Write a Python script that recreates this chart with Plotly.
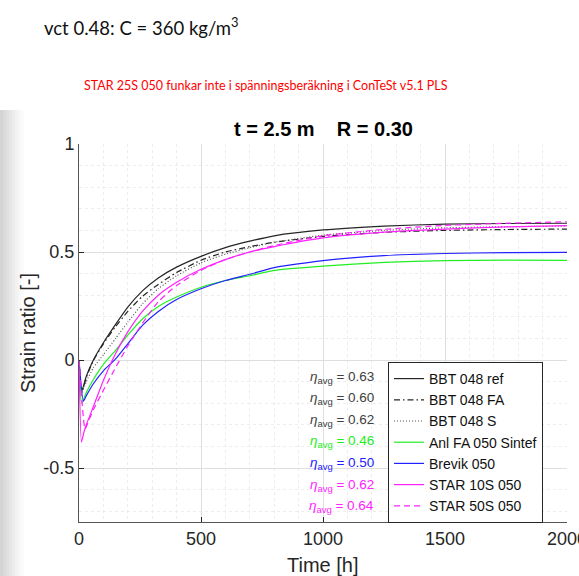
import plotly.graph_objects as go

# ---------------- data ----------------
t_std = [0, 11, 30, 59, 100, 150, 200, 260, 325, 400, 500, 600, 700, 800, 1000, 1250, 1500, 1750, 2000]
bbt_ref = [0, -0.145, -0.075, 0.0, 0.08, 0.165, 0.245, 0.32, 0.38, 0.43, 0.48, 0.52, 0.55, 0.575, 0.602, 0.62, 0.629, 0.632, 0.633]
bbt_fa = [0, -0.15, -0.08, -0.002, 0.075, 0.155, 0.225, 0.295, 0.35, 0.405, 0.462, 0.50, 0.525, 0.545, 0.572, 0.591, 0.600, 0.604, 0.606]
bbt_s = [0, -0.15, -0.10, -0.035, 0.025, 0.10, 0.175, 0.26, 0.33, 0.39, 0.45, 0.49, 0.52, 0.545, 0.578, 0.60, 0.612, 0.617, 0.62]
anl_fa = [0, -0.20, -0.15, -0.09, -0.02, 0.045, 0.115, 0.19, 0.248, 0.292, 0.337, 0.368, 0.39, 0.415, 0.435, 0.452, 0.460, 0.462, 0.461]

t_brevik = [0, 18, 30, 59, 100, 150, 200, 260, 325, 400, 500, 600, 700, 800, 1000, 1250, 1500, 1750, 2000]
brevik = [0, -0.19, -0.165, -0.11, -0.05, 0.005, 0.075, 0.16, 0.225, 0.28, 0.33, 0.368, 0.397, 0.428, 0.46, 0.483, 0.493, 0.497, 0.498]

t_star10 = [0, 10, 20, 30, 59, 100, 150, 200, 260, 325, 400, 500, 600, 700, 800, 1000, 1250, 1500, 1750, 2000]
star10 = [0, -0.38, -0.335, -0.30, -0.215, -0.095, 0.03, 0.13, 0.225, 0.30, 0.36, 0.42, 0.465, 0.50, 0.525, 0.565, 0.592, 0.606, 0.616, 0.622]

t_star50 = [0, 25, 40, 59, 100, 150, 200, 260, 325, 400, 500, 600, 700, 800, 1000, 1250, 1500, 1750, 2000]
star50 = [0, -0.32, -0.28, -0.23, -0.14, -0.035, 0.065, 0.17, 0.27, 0.345, 0.415, 0.465, 0.50, 0.53, 0.575, 0.605, 0.623, 0.633, 0.640]

names = ["BBT 048 ref", "BBT 048 FA", "BBT 048 S", "Anl FA 050 Sintef", "Brevik 050", "STAR 10S 050", "STAR 50S 050"]
eta_avg = ["0.63", "0.60", "0.62", "0.46", "0.50", "0.62", "0.64"]

x_ticks = [0, 500, 1000, 1500, 2000]
y_ticks = [-0.5, 0, 0.5, 1]

# ---------------- styles ----------------
series = [
    (t_std, bbt_ref, "#262626", "solid"),
    (t_std, bbt_fa, "#262626", "6px,3px,1.5px,3px"),
    (t_std, bbt_s, "#555555", "1px,2px"),
    (t_std, anl_fa, "#22ee22", "solid"),
    (t_brevik, brevik, "#2222ff", "solid"),
    (t_star10, star10, "#ff22ff", "solid"),
    (t_star50, star50, "#ff22ff", "6px,4px"),
]
eta_colors = ["#404040", "#404040", "#404040", "#22ee22", "#2222ff", "#ff22ff", "#ff22ff"]

W, H = 579, 576
L, R, T, B = 79, 12, 144, 54
PW, PH = W - L - R, H - T - B


def X(px):
    return (px - L) / PW


def Y(py):
    return (H - B - py) / PH


fig = go.Figure()
for (tx, ty, col, dash), nm in zip(series, names):
    fig.add_trace(go.Scatter(x=tx, y=ty, mode="lines", name=nm,
                             line=dict(color=col, width=1.2, dash=dash, shape="spline", smoothing=0.5)))

FONT = "Liberation Sans, Arial, sans-serif"
grid_major = "#dedede"
grid_minor = "#ededed"

fig.update_layout(
    width=W, height=H,
    margin=dict(l=L, r=R, t=T, b=B, pad=0, autoexpand=False),
    paper_bgcolor="white", plot_bgcolor="white",
    showlegend=True,
    legend=dict(x=X(388), y=Y(362), xanchor="left", yanchor="top",
                bgcolor="white", bordercolor="#262626", borderwidth=1,
                font=dict(family=FONT, size=14, color="#111111"),
                tracegroupgap=0, itemwidth=30,
                entrywidth=163, entrywidthmode="pixels"),
    font=dict(family=FONT, color="#262626"),
)
fig.update_xaxes(range=[0, 2000], tickvals=x_ticks, ticks="inside", ticklen=5, tickcolor="#262626",
                 showline=True, linecolor="#555555", linewidth=1, mirror=False,
                 showgrid=True, gridcolor=grid_major, gridwidth=1, zeroline=False,
                 ticklabeloverflow="allow", automargin=False,
                 tickfont=dict(family=FONT, size=18, color="#262626"),
                 minor=dict(dtick=100, showgrid=True, gridcolor=grid_minor, griddash="dot", ticks=""))
fig.update_yaxes(range=[-0.75, 1], tickvals=y_ticks, ticktext=["-0.5", "0", "0.5", "1"],
                 ticks="inside", ticklen=5, tickcolor="#262626",
                 showline=True, linecolor="#555555", linewidth=1, mirror=False,
                 showgrid=True, gridcolor=grid_major, gridwidth=1, zeroline=False,
                 automargin=False,
                 tickfont=dict(family=FONT, size=18, color="#262626"),
                 minor=dict(dtick=0.1, showgrid=True, gridcolor=grid_minor, griddash="dot", ticks=""))

ann = []
# slide heading
ann.append(dict(x=X(42), y=Y(26), xref="paper", yref="paper", xanchor="left", yanchor="middle",
                text="vct 0.48: C = 360 kg/m<sup>3</sup>", showarrow=False,
                font=dict(family="Lato, sans-serif", size=18.5, color="#111111")))
ann.append(dict(x=X(266), y=Y(85), xref="paper", yref="paper", xanchor="center", yanchor="middle",
                text="STAR 25S 050 funkar inte i spänningsberäkning i ConTeSt v5.1 PLS", showarrow=False,
                font=dict(family="Lato, sans-serif", size=12.5, color="#ff0000")))
# chart title
ann.append(dict(x=X(323), y=Y(129), xref="paper", yref="paper", xanchor="center", yanchor="middle",
                text="<b>t = 2.5 m\u00a0\u00a0\u00a0\u00a0R = 0.30</b>", showarrow=False,
                font=dict(family=FONT, size=20, color="#000000")))
# axis titles
ann.append(dict(x=X(28), y=Y(333), xref="paper", yref="paper", xanchor="center", yanchor="middle",
                text="Strain ratio [-]", textangle=-90, showarrow=False,
                font=dict(family=FONT, size=20, color="#262626")))
ann.append(dict(x=X(323), y=Y(565), xref="paper", yref="paper", xanchor="center", yanchor="middle",
                text="Time [h]", showarrow=False,
                font=dict(family=FONT, size=20, color="#262626")))
# eta annotations
for i, (v, c) in enumerate(zip(eta_avg, eta_colors)):
    py = 377 + 21.6 * i
    ann.append(dict(x=X(376), y=Y(py), xref="paper", yref="paper", xanchor="right", yanchor="middle",
                    text="<i>η</i><sub>avg</sub> = " + v, showarrow=False,
                    font=dict(family=FONT, size=13.5, color=c)))
fig.update_layout(annotations=ann)

# slide shadow on the left edge
shades = ["#d4d4d4", "#dadada", "#e0e0e0", "#e6e6e6", "#ececec", "#f2f2f2", "#f7f7f7", "#fbfbfb"]
shapes = []
for i, c in enumerate(shades):
    shapes.append(dict(type="rect", xref="paper", yref="paper", x0=X(i * 3), x1=X(i * 3 + 3),
                       y0=Y(576), y1=Y(110), fillcolor=c, line=dict(width=0), layer="below"))
fig.update_layout(shapes=shapes)

fig.write_html("out.html")
